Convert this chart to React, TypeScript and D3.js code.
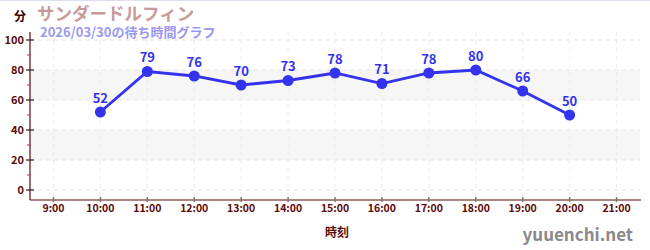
import React from "react";
import * as d3 from "d3";

const hours = [10, 11, 12, 13, 14, 15, 16, 17, 18, 19, 20];
const waits = [52, 79, 76, 70, 73, 78, 71, 78, 80, 66, 50];
const xTicks = [9, 10, 11, 12, 13, 14, 15, 16, 17, 18, 19, 20, 21];
const yTicks = [0, 20, 40, 60, 80, 100];
const yMinor = [10, 30, 50, 70, 90];
const bands = [[20, 40], [60, 80]];
const title = "サンダードルフィン";
const subtitle = "2026/03/30の待ち時間グラフ";
const yUnit = "分";
const xLabel = "時刻";
const credit = "yuuenchi.net";

const W = 650, H = 250;
const FONT = "'Noto Sans CJK JP', 'Noto Sans', sans-serif";

export default function App() {
  const x = d3.scaleLinear().domain([8.5, 21.5]).range([30, 640]);
  const y = d3.scaleLinear().domain([-6.667, 105.33]).range([200, 32]);
  const line = d3.line<number>().x((_, i) => x(hours[i])).y((d) => y(d));
  const axisColor = "#5a0a0a";
  const blue = "#3333ee";
  return (
    <svg width={W} height={H} style={{ position: "absolute", left: 0, top: 0, background: "#fff" }} fontFamily={FONT}>
      <line x1={0} x2={W} y1={0.5} y2={0.5} stroke="#dde0ee" />
      {bands.map(([a, b], i) => (
        <rect key={i} x={x(8.5)} width={x(21.5) - x(8.5)} y={y(b)} height={y(a) - y(b)} fill="#f6f6f6" />
      ))}
      {yTicks.map((t) => (
        <line key={"gy" + t} x1={x(8.5)} x2={x(21.5)} y1={y(t)} y2={y(t)} stroke="#e4e4e4" strokeDasharray="4,4" />
      ))}
      {xTicks.map((t) => (
        <line key={"gx" + t} x1={x(t)} x2={x(t)} y1={y(105.33)} y2={y(-6.667)} stroke="#ececec" strokeDasharray="4,4" />
      ))}
      <line x1={30} x2={30} y1={32} y2={200} stroke={axisColor} strokeWidth={1.2} />
      <line x1={30} x2={641} y1={200} y2={200} stroke={axisColor} strokeWidth={1.2} />
      {yTicks.map((t) => (
        <g key={"yt" + t}>
          <line x1={26} x2={34} y1={y(t)} y2={y(t)} stroke="#222" strokeWidth={1.2} />
          <text x={24} y={y(t)} dy="0.35em" textAnchor="end" fontSize={11} fontWeight="bold" fill={axisColor}>{t}</text>
        </g>
      ))}
      {yMinor.map((t) => (
        <line key={"ym" + t} x1={27} x2={30} y1={y(t)} y2={y(t)} stroke="#dd2222" strokeWidth={1} />
      ))}
      {xTicks.map((t) => (
        <g key={"xt" + t}>
          <line x1={x(t)} x2={x(t)} y1={197} y2={202} stroke="#777" strokeWidth={1.5} />
          <text x={x(t)} y={212} textAnchor="middle" fontSize={10.5} fontWeight="bold" fill={axisColor}>{`${t}:00`}</text>
        </g>
      ))}
      <text x={337} y={237} textAnchor="middle" fontSize={12} fontWeight="bold" fill={axisColor}>{xLabel}</text>
      <text x={633} y={241} textAnchor="end" fontSize={17} fontWeight="bold" fill="#8a8a8a">{credit}</text>
      <text x={20} y={21} textAnchor="middle" fontSize={12} fontWeight="bold" fill="#3a0000">{yUnit}</text>
      <text x={37} y={19.5} fontSize={17.5} fontWeight="bold" fill="#c89a9a">{title}</text>
      <text x={40} y={37} fontSize={13} fontWeight="bold" fill="#9999ee">{subtitle}</text>
      <path d={line(waits) || ""} fill="none" stroke={blue} strokeWidth={2.8} />
      {waits.map((v, i) => (
        <g key={"p" + i}>
          <circle cx={x(hours[i])} cy={y(v)} r={5.5} fill={blue} />
          <text x={x(hours[i])} y={y(v) - 9} textAnchor="middle" fontSize={13} fontWeight="bold" fill={blue}>{v}</text>
        </g>
      ))}
    </svg>
  );
}
